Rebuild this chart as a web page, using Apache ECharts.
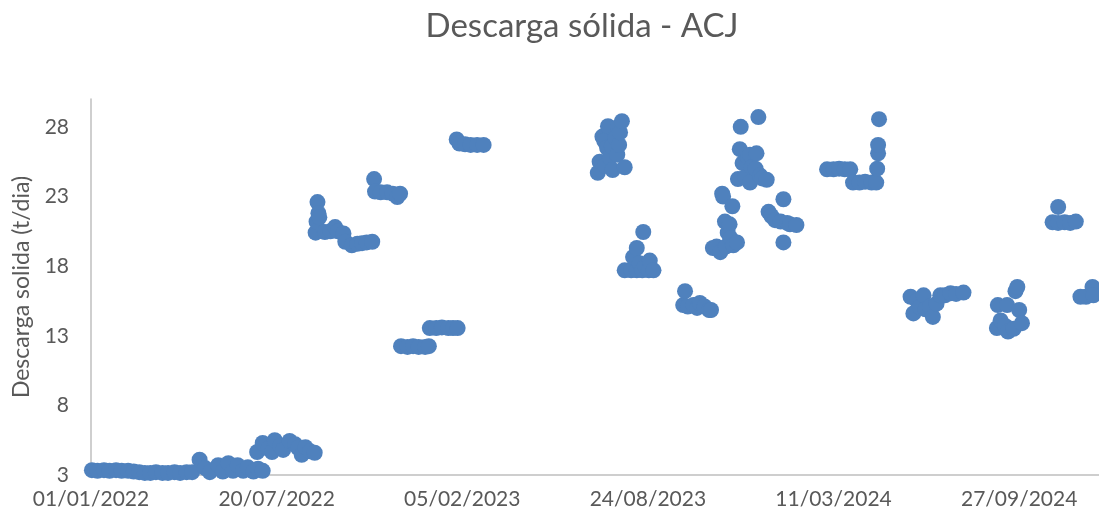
<!DOCTYPE html>
<html>
<head>
<meta charset="utf-8">
<script src="https://cdn.jsdelivr.net/npm/echarts/dist/echarts.min.js"></script>
<style>
  html, body { margin: 0; padding: 0; background: #ffffff; }
  #chart { width: 1099px; height: 516px; }
</style>
</head>
<body>
<div id="chart"></div>
<script>
// Chart data (x = days since the start date, y = solid discharge in t/day)
const startDate = [2022, 0, 1];
const chartTitle = 'Descarga sólida - ACJ';
const yAxisTitle = 'Descarga solida (t/dia)';
const xTickStepDays = 200;
const xMaxDays = 1086;
const yMin = 3, yMax = 30, yStep = 5;

const dayOffsets = [
  1, 7, 14, 20, 27, 33, 40, 46, 52, 58, 64, 70, 77, 83, 90, 96, 103, 109,
  117, 123, 128, 137, 142, 148, 153, 158, 164, 169, 175, 180, 185,
  179, 185, 191, 195, 198, 204, 207, 214, 220, 223, 227, 231, 236, 241,
  242, 243, 244, 245, 246, 252, 258, 263, 266, 272, 274, 281, 287, 292, 297, 303,
  305, 306, 312, 319, 325, 330, 333,
  334, 341, 347, 353, 360, 364,
  365, 372, 378, 385, 390, 395,
  394, 397, 403, 409, 416, 423,
  546, 548, 551, 553, 554, 556, 557, 559, 561, 562, 565, 567, 568, 569, 570, 572, 575,
  575, 582, 584, 588, 588, 591, 594, 595, 597, 601, 602, 606,
  638, 640, 643, 649, 653, 656, 661, 666, 668,
  670, 674, 678, 680, 681, 683, 684, 686, 688, 689, 691, 692, 696,
  697, 699, 700, 702, 705, 708, 710, 710, 712, 716, 717, 719, 721, 723, 728,
  730, 733, 737, 743, 746, 746, 750, 753, 760,
  793, 800, 806, 812, 818, 821, 828, 834, 841, 846, 847, 848, 848, 849,
  883, 886, 890, 893, 897, 899, 904, 907, 911, 915, 920, 926, 932, 940,
  976, 977, 980, 985, 987, 988, 994, 996, 998, 1000, 1003,
  1036, 1042, 1042, 1049, 1055, 1061,
  1066, 1072, 1079, 1080
];

const discharge = [
  3.35, 3.3, 3.35, 3.3, 3.35, 3.3, 3.3, 3.25, 3.2, 3.15, 3.15, 3.2, 3.15, 3.15, 3.2, 3.15, 3.2, 3.2,
  4.1, 3.5, 3.2, 3.7, 3.25, 3.85, 3.3, 3.7, 3.3, 3.55, 3.25, 3.45, 3.3,
  4.65, 5.3, 4.9, 4.65, 5.5, 5.1, 4.8, 5.45, 5.2, 4.95, 4.45, 5.0, 4.7, 4.6,
  20.4, 21.2, 22.6, 21.8, 21.5, 20.45, 20.5, 20.8, 20.5, 20.35, 19.75, 19.5, 19.6, 19.65, 19.7, 19.75,
  24.25, 23.35, 23.3, 23.3, 23.2, 22.96, 23.2,
  12.25, 12.2, 12.25, 12.2, 12.2, 12.25,
  13.55, 13.55, 13.6, 13.55, 13.55, 13.55,
  27.1, 26.8, 26.75, 26.7, 26.7, 26.7,
  24.7, 25.5, 27.3, 27.0, 25.2, 26.5, 28.05, 25.8, 26.6, 24.9, 27.2, 26.0, 28.0, 26.7, 27.6, 28.4, 25.1,
  17.7, 17.7, 18.65, 17.7, 19.3, 18.2, 17.7, 20.45, 18.0, 17.7, 18.4, 17.7,
  15.2, 16.2, 15.1, 15.2, 15.0, 15.35, 15.1, 14.85, 14.85,
  19.3, 19.4, 19.0, 23.2, 23.0, 21.2, 19.4, 20.4, 21.0, 20.0, 22.3, 19.5, 19.7,
  24.25, 26.4, 28.0, 25.4, 24.4, 25.8, 24.0, 26.0, 25.1, 25.0, 26.1, 28.7, 24.5, 24.3, 24.2,
  21.9, 21.6, 21.3, 21.2, 22.8, 19.7, 21.1, 21.0, 20.95,
  24.95, 24.95, 25.0, 24.95, 24.95, 24.0, 24.0, 24.05, 24.0, 24.0, 25.0, 26.1, 26.7, 28.55,
  15.8, 14.6, 15.5, 15.05, 15.9, 14.9, 15.1, 14.35, 15.3, 15.9, 15.9, 16.05, 16.0, 16.1,
  13.55, 15.2, 14.1, 13.7, 15.2, 13.3, 13.5, 16.2, 16.5, 14.85, 13.9,
  21.15, 21.1, 22.25, 21.15, 21.1, 21.2,
  15.8, 15.8, 16.5, 15.9
];

const FONT = 'Lato, "Open Sans", sans-serif';
const TEXT_COLOR = '#595959';
const AXIS_COLOR = '#BFBFBF';

function dayToLabel(v) {
  const d = new Date(Date.UTC(startDate[0], startDate[1], startDate[2]) + v * 86400000);
  const p = n => String(n).padStart(2, '0');
  return p(d.getUTCDate()) + '/' + p(d.getUTCMonth() + 1) + '/' + d.getUTCFullYear();
}

const points = dayOffsets.map((d, i) => [d, discharge[i]]);

const chart = echarts.init(document.getElementById('chart'), null, { renderer: 'canvas' });
chart.setOption({
  animation: false,
  backgroundColor: '#ffffff',
  title: {
    text: chartTitle,
    left: 577,
    top: 5,
    textAlign: 'center',
    textStyle: { fontFamily: FONT, fontSize: 33, fontWeight: 'normal', color: TEXT_COLOR }
  },
  grid: { left: 91, right: 0, top: 99, bottom: 41, containLabel: false },
  xAxis: {
    type: 'value',
    min: 0,
    max: xMaxDays,
    interval: xTickStepDays,
    axisLine: { show: true, lineStyle: { color: AXIS_COLOR, width: 1.5 } },
    axisTick: { show: false },
    splitLine: { show: false },
    axisLabel: {
      formatter: dayToLabel,
      color: TEXT_COLOR,
      fontFamily: FONT,
      fontSize: 21,
      margin: 14,
      showMaxLabel: false
    }
  },
  yAxis: {
    type: 'value',
    min: yMin,
    max: yMax,
    interval: yStep,
    name: yAxisTitle,
    nameLocation: 'middle',
    nameGap: 58,
    nameTextStyle: { fontFamily: FONT, fontSize: 23, color: TEXT_COLOR },
    axisLine: { show: true, lineStyle: { color: AXIS_COLOR, width: 1.5 } },
    axisTick: { show: false },
    splitLine: { show: false },
    axisLabel: {
      color: TEXT_COLOR,
      fontFamily: FONT,
      fontSize: 21,
      margin: 22,
      showMaxLabel: false
    }
  },
  series: [{
    type: 'scatter',
    data: points,
    symbol: 'circle',
    symbolSize: 16,
    itemStyle: { color: '#4F81BD', opacity: 1 }
  }]
});
</script>
</body>
</html>
